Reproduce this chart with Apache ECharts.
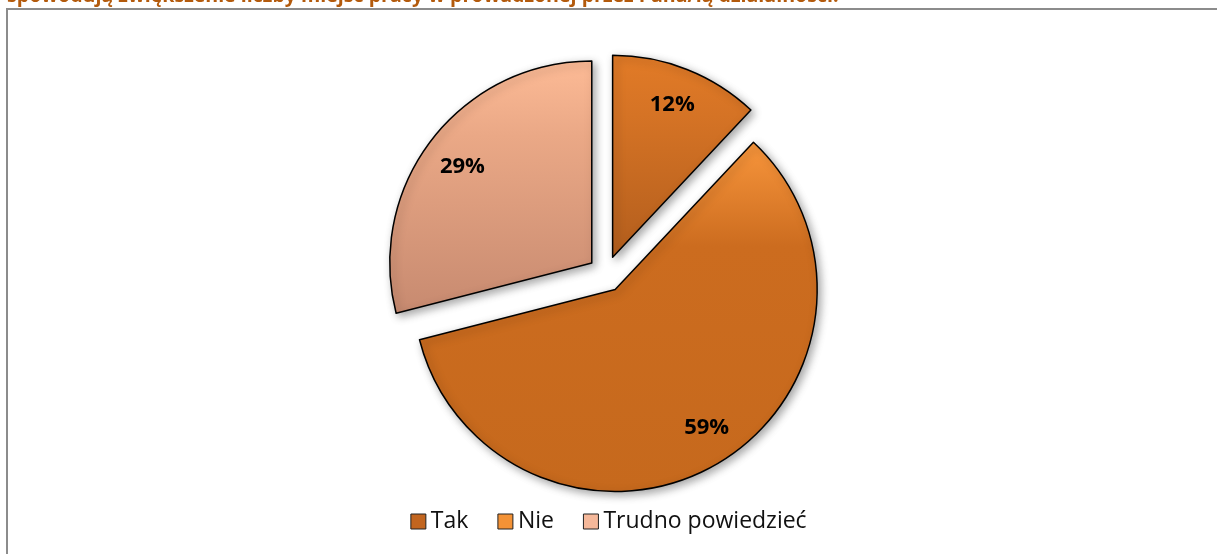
<!DOCTYPE html>
<html style="height: 100%">
<head>
    <meta charset="utf-8">
    <title>Miejsca pracy</title>
</head>
<body style="height: 100%; margin: 0; background: #fff">
    <div id="chart" style="width: 1217px; height: 554px;"></div>

    <script src="https://cdn.jsdelivr.net/npm/echarts@6/dist/echarts.min.js"></script>
    <script type="text/javascript">
    // dane
    var categories = ['Tak', 'Nie', 'Trudno powiedzieć'];
    var values = [12, 59, 29];
    var titleLine = 'spowodują zwiększenie liczby miejsc pracy w prowadzonej przez Pana/ią działalności.';

    var sliceColors = [
        ['#E27B27', '#D57325', '#B35E1D'],
        ['#F8963C', '#CC6C1F', '#C6691D'],
        ['#FDBB96', '#EAA886', '#C78A70']
    ];
    var legendColors = ['#C2651F', '#F39236', '#F5B89A'];
    // drobne przesunięcia etykiet: poziomo (padding) i pionowo (pusta linia)
    var labelPad = [[0, 6, 0, 0], [0, 0, 0, 10], [0, 0, 0, 10]];
    var labelLift = [12, -16, 16];

    function grad(c) {
        return {
            type: 'linear', x: 0, y: 0, x2: 0, y2: 1,
            colorStops: [
                { offset: 0, color: c[0] },
                { offset: 0.3, color: c[1] },
                { offset: 1, color: c[2] }
            ]
        };
    }

    function labelText(v, lift) {
        if (lift > 0) return '{s' + lift + '| }\n{v|' + v + '%}';
        return '{v|' + v + '%}\n{s' + (-lift) + '| }';
    }

    var rich = {
        v: { fontFamily: 'Open Sans', fontWeight: 'bold', fontSize: 22, color: '#000', lineHeight: 26 }
    };

    var pieData = [];
    var labelData = [];
    for (var i = 0; i < categories.length; i++) {
        pieData.push({
            name: categories[i],
            value: values[i],
            selected: true,
            itemStyle: { color: grad(sliceColors[i]) }
        });
        rich['s' + Math.abs(labelLift[i])] = { fontSize: 1, lineHeight: Math.abs(labelLift[i]) };
        labelData.push({
            name: categories[i],
            value: values[i],
            selected: true,
            label: {
                padding: labelPad[i],
                formatter: labelText(values[i], labelLift[i])
            }
        });
    }

    var center = [606, 274];

    var option = {
        backgroundColor: '#ffffff',
        animation: false,
        legend: {
            bottom: 16,
            left: 'center',
            icon: 'rect',
            itemWidth: 15,
            itemHeight: 15,
            itemGap: 29,
            selectedMode: false,
            textStyle: {
                fontFamily: 'Open Sans',
                fontSize: 23,
                color: '#111'
            },
            itemStyle: { borderColor: '#222', borderWidth: 1 },
            data: categories.map(function (n, k) {
                return { name: n, itemStyle: { color: legendColors[k] } };
            })
        },
        graphic: [
            {
                type: 'rect',
                shape: { x: 7, y: 9, width: 1400, height: 700 },
                style: { fill: 'none', stroke: '#8c8c8c', lineWidth: 2 },
                silent: true
            },
            {
                type: 'text',
                x: 7,
                y: -4,
                style: {
                    text: titleLine,
                    fill: '#B35A0C',
                    font: 'bold 19.6px "Open Sans"',
                    verticalAlign: 'middle'
                },
                silent: true
            }
        ],
        series: [
            {
                name: 'odpowiedzi',
                type: 'pie',
                center: center,
                radius: 202,
                startAngle: 90,
                clockwise: true,
                selectedMode: 'multiple',
                selectedOffset: 18,
                label: { show: false },
                labelLine: { show: false },
                emphasis: { scale: false, disabled: true },
                itemStyle: {
                    borderColor: '#000',
                    borderWidth: 1.5,
                    shadowBlur: 8,
                    shadowColor: 'rgba(0,0,0,0.35)',
                    shadowOffsetX: 3,
                    shadowOffsetY: 3
                },
                data: pieData
            },
            {
                name: 'etykiety',
                type: 'pie',
                center: center,
                radius: [132, 202],
                startAngle: 90,
                clockwise: true,
                selectedMode: 'multiple',
                selectedOffset: 18,
                silent: true,
                z: 5,
                itemStyle: { color: 'rgba(0,0,0,0)', borderWidth: 0 },
                label: {
                    show: true,
                    position: 'inside',
                    rich: rich
                },
                labelLine: { show: false },
                emphasis: { disabled: true },
                data: labelData
            }
        ]
    };

    var myChart = echarts.init(document.getElementById('chart'));
    myChart.setOption(option);
    </script>
</body>
</html>
